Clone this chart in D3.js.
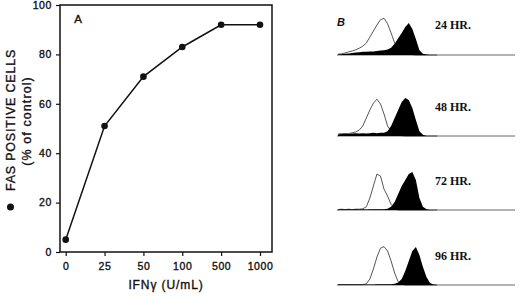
<!DOCTYPE html>
<html><head><meta charset="utf-8">
<script src="https://cdn.jsdelivr.net/npm/d3@7"></script>
<style>body{margin:0;background:#fff}svg{display:block}</style>
</head><body>
<script>
// Panel A data
const doses = ["0","25","50","100","500","1000"];
const fasPositive = [5, 51, 71, 83, 92, 92];
const yTicks = [0, 20, 40, 60, 80, 100];

// Panel B data: fluorescence channels and histogram counts
const channels = [0,2,4,6,8,10,12,14,16,18,20,22,24,26,28,30,32,34,36,38,40,42,44,46,48,50,52,54,56];
const timeLabels = ["24 HR.","48 HR.","72 HR.","96 HR."];
const controlCounts = [
  [2,3,5,8,10,13,17,22,30,45,60,75,88,92,78,55,30,20,12,6,3,1,0,0,0,0,0,0,0],
  [5,6,5,6,8,10,15,25,45,65,82,92,80,55,25,12,6,3,1,0,0,0,0,0,0,0,0,0,0],
  [1,2,1,2,1,2,2,3,8,30,60,90,85,52,35,14,4,0,0,0,0,0,0,0,0,0,0,0,0],
  [1,1,1,1,1,1,1,1,3,15,40,70,92,96,85,60,30,8,2,0,0,0,0,0,0,0,0,0,0]
];
const ifnCounts = [
  [1,2,3,4,5,6,7,8,8,9,9,10,11,12,14,18,28,42,55,70,80,65,40,12,3,1,0,0,0],
  [4,5,6,5,6,7,6,7,6,7,8,7,8,8,12,25,45,65,85,95,90,70,40,12,3,0,0,0,0],
  [1,2,1,2,1,2,1,2,1,2,2,2,2,2,3,8,20,40,60,75,90,95,75,30,8,2,0,0,0],
  [1,1,1,1,1,1,1,1,1,1,1,2,2,2,2,2,3,6,15,35,60,85,95,75,45,20,5,1,0]
];

const W = 520, H = 297;
const svg = d3.select("body").append("svg").attr("width", W).attr("height", H);
const sans = "'Liberation Sans', Arial, sans-serif";
const serif = "'Liberation Serif', 'Times New Roman', serif";
const heavy = sel => sel.attr("stroke", "#111").attr("stroke-width", 0.35);

// ---------- Panel A ----------
const pL = 60, pR = 272, pT = 5, pB = 252;
const x = d3.scalePoint().domain(doses).range([65.7, 260]);
const y = d3.scaleLinear().domain([0, 100]).range([pB, pT]);

svg.append("rect").attr("x", pL).attr("y", pT).attr("width", pR - pL).attr("height", pB - pT)
  .attr("fill", "none").attr("stroke", "#111").attr("stroke-width", 1.5);

const yAxis = svg.append("g").attr("transform", `translate(${pL},0)`)
  .call(d3.axisLeft(y).tickValues(yTicks).tickSize(4).tickPadding(4));
const xAxis = svg.append("g").attr("transform", `translate(0,${pB})`)
  .call(d3.axisBottom(x).tickSize(4).tickPadding(7));
[yAxis, xAxis].forEach(g => {
  g.select(".domain").remove();
  g.selectAll("line").attr("stroke", "#111").attr("stroke-width", 1.2);
  g.selectAll("text").attr("font-family", sans).attr("font-size", 10.5).attr("fill", "#111")
    .attr("letter-spacing", 0.6).call(heavy);
});

svg.append("path").datum(fasPositive.map((v, i) => [doses[i], v]))
  .attr("d", d3.line().x(d => x(d[0])).y(d => y(d[1])))
  .attr("fill", "none").attr("stroke", "#111").attr("stroke-width", 1.5);
svg.selectAll("circle.pt").data(fasPositive).enter().append("circle").attr("class", "pt")
  .attr("cx", (d, i) => x(doses[i])).attr("cy", d => y(d)).attr("r", 3.3).attr("fill", "#111");

svg.append("text").attr("x", 78).attr("y", 23).attr("text-anchor", "middle")
  .attr("font-family", sans).attr("font-size", 11.5).attr("fill", "#111").call(heavy).text("A");

// Y label
svg.append("text").attr("transform", "translate(15,120) rotate(-90)").attr("text-anchor", "middle")
  .attr("font-family", sans).attr("font-size", 12.5).attr("letter-spacing", 0.8).attr("fill", "#111")
  .call(heavy).text("FAS POSITIVE CELLS");
svg.append("text").attr("transform", "translate(31,121) rotate(-90)").attr("text-anchor", "middle")
  .attr("font-family", sans).attr("font-size", 12.5).attr("letter-spacing", 1.1).attr("fill", "#111")
  .call(heavy).text("(% of control)");
svg.append("circle").attr("cx", 10.5).attr("cy", 207).attr("r", 3.5).attr("fill", "#111");

// X label
svg.append("text").attr("x", 166).attr("y", 289).attr("text-anchor", "middle")
  .attr("font-family", sans).attr("font-size", 12).attr("letter-spacing", 0.9).attr("fill", "#111")
  .call(heavy).text("IFNγ (U/mL)");

// ---------- Panel B ----------
svg.append("text").attr("x", 337).attr("y", 26).attr("font-family", sans).attr("font-style", "italic")
  .attr("font-weight", "bold").attr("font-size", 11).attr("fill", "#111").text("B");

const hx = d3.scaleLinear().domain([0, 100]).range([338, 515]);
const baselines = [55, 136, 210, 285];
const labelY = [29, 111, 185, 260];

timeLabels.forEach((lab, k) => {
  const b = baselines[k];
  const hy = d3.scaleLinear().domain([0, 100]).range([b, b - 40]);
  svg.append("line").attr("x1", 337).attr("x2", 515).attr("y1", b).attr("y2", b)
    .attr("stroke", "#666").attr("stroke-width", 1);
  const area = d3.area().x((d, i) => hx(channels[i])).y0(b).y1(d => hy(d));
  const line = d3.line().x((d, i) => hx(channels[i])).y(d => hy(d));
  svg.append("path").datum(controlCounts[k]).attr("d", line)
    .attr("fill", "none").attr("stroke", "#444").attr("stroke-width", 0.9);
  svg.append("path").datum(ifnCounts[k]).attr("d", area).attr("fill", "#000");
  svg.append("text").attr("x", 435).attr("y", labelY[k]).attr("font-family", serif)
    .attr("font-weight", "bold").attr("font-size", 12).attr("fill", "#111").text(lab);
});
</script>
</body></html>
